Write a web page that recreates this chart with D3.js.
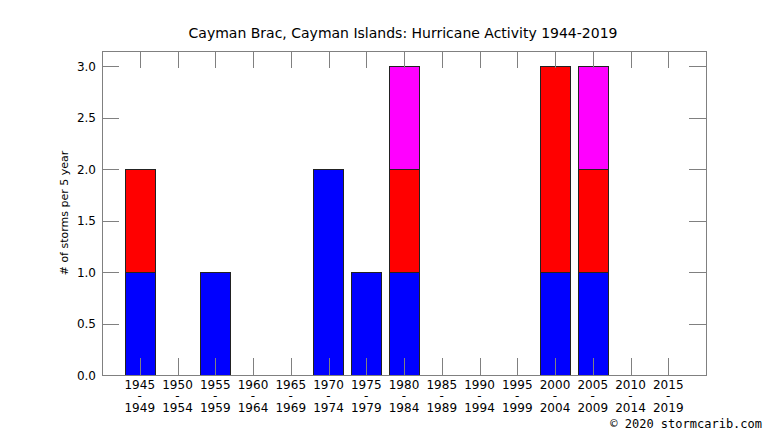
<!DOCTYPE html>
<html>
<head>
<meta charset="utf-8">
<script src="https://cdn.jsdelivr.net/npm/d3@7"></script>
<style>
  body { margin: 0; background: #fff; }
  svg text { font-family: "DejaVu Sans", sans-serif; fill: #000; }
</style>
</head>
<body>
<svg id="chart" width="766" height="431"></svg>
<script>
// 5-year periods
var startYears = [1945, 1950, 1955, 1960, 1965, 1970, 1975, 1980, 1985, 1990, 1995, 2000, 2005, 2010, 2015];
var endYears   = [1949, 1954, 1959, 1964, 1969, 1974, 1979, 1984, 1989, 1994, 1999, 2004, 2009, 2014, 2019];

// storms per period, stacked bottom to top
var blueVals    = [1, 0, 1, 0, 0, 2, 1, 1, 0, 0, 0, 1, 1, 0, 0];
var redVals     = [1, 0, 0, 0, 0, 0, 0, 1, 0, 0, 0, 2, 1, 0, 0];
var magentaVals = [0, 0, 0, 0, 0, 0, 0, 1, 0, 0, 0, 0, 1, 0, 0];

var yTicks = [0, 0.5, 1, 1.5, 2, 2.5, 3];

var seriesKeys = ['blue', 'red', 'magenta'];
var seriesColors = { blue: '#0000ff', red: '#ff0000', magenta: '#ff00ff' };

var rows = startYears.map(function (y, i) {
    return { i: i, blue: blueVals[i], red: redVals[i], magenta: magentaVals[i] };
});

var svg = d3.select('#chart');

// plot box (window.top is reserved, so use other names)
var pLeft = 102, pRight = 706, pTop = 51, pBottom = 375;

var x = d3.scaleLinear().domain([-1, startYears.length]).range([pLeft, pRight]);
var y = d3.scaleLinear().domain([0, 3.146]).range([pBottom, pTop]);

var barW = (x(1) - x(0)) * 0.8;
var tickLen = 17;

// bars
var stacked = d3.stack().keys(seriesKeys)(rows);
svg.append('g').selectAll('g')
    .data(stacked)
    .enter()
    .append('g')
    .style('fill', function (s) { return seriesColors[s.key]; })
    .selectAll('rect')
    .data(function (s) { return s.filter(function (d) { return d[1] - d[0] > 0; }); })
    .enter()
    .append('rect')
    .attr('x', function (d) { return Math.round(x(d.data.i) - barW / 2) + 0.5; })
    .attr('width', Math.round(barW))
    .attr('y', function (d) { return Math.round(y(d[1])) + 0.5; })
    .attr('height', function (d) { return Math.round(y(d[0])) - Math.round(y(d[1])); })
    .attr('stroke', '#222')
    .attr('stroke-width', 1);

// frame
svg.append('rect')
    .attr('x', pLeft + 0.5).attr('y', pTop + 0.5)
    .attr('width', pRight - pLeft).attr('height', pBottom - pTop)
    .attr('fill', 'none')
    .attr('stroke', '#808080');

// y ticks, both sides, inward
var yt = svg.append('g').attr('stroke', '#808080');
yTicks.forEach(function (t) {
    var py = Math.round(y(t)) + 0.5;
    yt.append('line').attr('x1', pLeft).attr('x2', pLeft + tickLen).attr('y1', py).attr('y2', py);
    yt.append('line').attr('x1', pRight - tickLen).attr('x2', pRight).attr('y1', py).attr('y2', py);
});
svg.append('g').selectAll('text')
    .data(yTicks)
    .enter()
    .append('text')
    .attr('x', pLeft - 6)
    .attr('y', function (t) { return y(t) + 4.5; })
    .attr('text-anchor', 'end')
    .style('font-size', '12px')
    .text(function (t) { return d3.format('.1f')(t); });

// x ticks, top and bottom, inward
var xt = svg.append('g').attr('stroke', '#808080');
startYears.forEach(function (s, i) {
    var px = Math.round(x(i)) + 0.5;
    xt.append('line').attr('x1', px).attr('x2', px).attr('y1', pBottom).attr('y2', pBottom - tickLen);
    xt.append('line').attr('x1', px).attr('x2', px).attr('y1', pTop).attr('y2', pTop + tickLen);
});

// three-line period labels
var xl = svg.append('g').selectAll('text')
    .data(startYears)
    .enter()
    .append('text')
    .attr('text-anchor', 'middle')
    .style('font-size', '12px')
    .attr('transform', function (d, i) { return 'translate(' + x(i) + ',0)'; });
xl.append('tspan').attr('x', 0).attr('y', 388.5).text(function (d) { return d; });
xl.append('tspan').attr('x', 0).attr('y', 399.5).text('-');
xl.append('tspan').attr('x', 0).attr('y', 411.5).text(function (d, i) { return endYears[i]; });

// title
svg.append('text')
    .attr('x', 403).attr('y', 38)
    .attr('text-anchor', 'middle')
    .style('font-size', '14px')
    .text('Cayman Brac, Cayman Islands: Hurricane Activity 1944-2019');

// y label
svg.append('text')
    .attr('transform', 'translate(68,213) rotate(-90)')
    .attr('text-anchor', 'middle')
    .style('font-size', '11px')
    .text('# of storms per 5 year');

// credit
svg.append('text')
    .attr('x', 762).attr('y', 428)
    .attr('text-anchor', 'end')
    .style('font-family', '"DejaVu Sans Mono", monospace')
    .style('font-size', '12px')
    .text('\u00a9 2020 stormcarib.com');
</script>
</body>
</html>
